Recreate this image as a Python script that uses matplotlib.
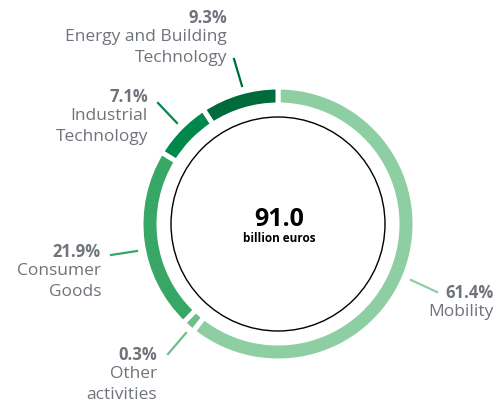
import matplotlib.pyplot as plt
from matplotlib.patches import Circle

# Sales share by business sector
sectors = ['Mobility', 'Other\nactivities', 'Consumer\nGoods', 'Industrial\nTechnology',
           'Energy and Building\nTechnology']
shares = [61.4, 0.3, 21.9, 7.1, 9.3]
colors = ['#8dcea2', '#6cbf8a', '#38a664', '#00884a', '#006b3a']
total_value = '91.0'
total_unit = 'billion euros'

# small slices get a minimum display size so they stay visible
min_share = 1.5
display = [max(s, min_share) for s in shares]

plt.rcParams['font.family'] = ['Open Sans', 'DejaVu Sans']
fig = plt.figure(figsize=(4.97, 4.04), dpi=100)
ax = fig.add_axes([0, 0, 1, 1])

cx, cy = 278, 180
ax.pie(display, colors=colors, startangle=90, counterclock=False,
       radius=137, center=(cx, cy), frame=True,
       wedgeprops=dict(width=18, edgecolor='white', linewidth=3.6))
ax.set_xlim(0, 497)
ax.set_ylim(0, 404)
ax.set_aspect('equal')
ax.axis('off')

ax.add_patch(Circle((cx, cy), 107, fill=False, edgecolor='black', linewidth=1))
ax.text(cx + 1, cy + 4, total_value, ha='center', va='center', fontsize=18,
        fontweight='bold', color='black')
ax.text(cx + 1, cy - 15, total_unit, ha='center', va='center', fontsize=8.5,
        fontweight='bold', color='black')

grey = '#6f737a'
# label anchors (right edge x, y of percentage line) and leader lines, in image pixels
label_pos = [(494, 293), (157, 355), (101, 252), (148, 97), (227, 18)]
leaders = [((411, 280), (437, 292)), ((186, 333), (168, 354)), ((137, 251), (111, 255)),
           ((177, 123), (158, 103)), ((242, 86), (234, 59))]

for name, share, col, (lx, ly), (p1, p2) in zip(sectors, shares, colors, label_pos, leaders):
    ax.text(lx, 404 - ly, f'{share}%', ha='right', va='center', fontsize=12,
            fontweight='bold', color=grey)
    ax.text(lx, 404 - ly - 11, name, ha='right', va='top', fontsize=12.5,
            color=grey, linespacing=1.4)
    ax.plot([p1[0], p2[0]], [404 - p1[1], 404 - p2[1]], color=col, linewidth=1.6)

fig.savefig('out.png', dpi=100)
